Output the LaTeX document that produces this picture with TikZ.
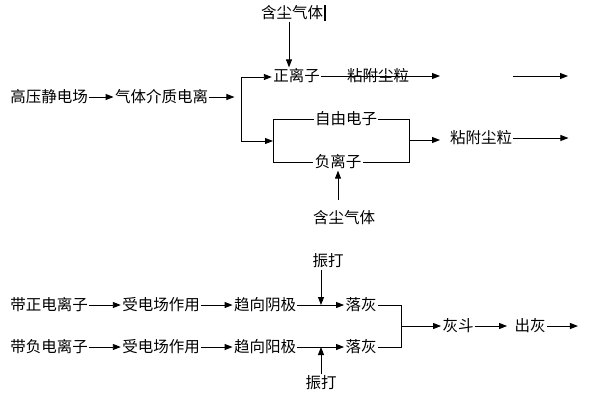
\documentclass[tikz,border=0pt]{standalone}
\usepackage{fontspec}
\newfontfamily\cjk{Noto Sans CJK SC}
\usetikzlibrary{arrows.meta, positioning}

\begin{document}
\begin{tikzpicture}[x=1pt, y=-1pt, >={Triangle[length=8pt,width=6pt]}, line width=0.9pt,
    lbl/.style={inner sep=1pt, font=\cjk\fontsize{15.5}{16}\selectfont}]
  \useasboundingbox (0,0) rectangle (593,405);

  % ionisation chain
  \node[lbl] (hv)  at (49,97)    {高压静电场};
  \node[lbl] (ion) at (161.5,97) {气体介质电离};
  \draw[->] (hv) -- (ion);
  \coordinate (forkTop) at (241,77);
  \coordinate (forkBot) at (241,141);
  \draw[->] (ion.east) -- ++(25,0);

  % positive ions
  \node[lbl] (gasA) at (292,13) {含尘气体};
  \draw[line width=1.6pt] (325,5) -- (325,21);
  \node[lbl] (pos) at (296.5,76) {正离子};
  \draw[->] ([xshift=-3pt]gasA.south) -- ([xshift=-3pt]gasA.south |- pos.north);
  \draw[->] (forkBot) -- (forkTop) -- (forkTop -| pos.west);
  \draw[->] (pos.east) -- (440,76);
  \node[lbl] (dustA) at (378,76) {粘附尘粒};
  \coordinate (tailA) at (513,76);
  \draw[->] (tailA) -- ++(55,0);

  % electrons and negative ions
  \coordinate (boxL) at (273,119);
  \coordinate (boxR) at (409,119);
  \node[lbl] (elec) at (346,119) {自由电子};
  \node[lbl] (neg)  at (338,162) {负离子};
  \draw[->] (forkBot) -- (forkBot -| boxL);
  \draw (elec.west) -- (boxL) -- (boxL |- neg) -- (neg.west);
  \draw (elec.east) -- (boxR) -- (boxR |- neg) -- (neg.east);
  \coordinate (boxMid) at (409,140);
  \draw[->] (boxMid) -- ++(31,0);
  \node[lbl] (dustB) at (481,138) {粘附尘粒};
  \draw[->] (dustB.east) -- ++(55,0);
  \node[lbl] (gasB) at (344,218) {含尘气体};
  \coordinate (gasUp) at (338,200);
  \draw[->] (gasUp) -- (gasUp |- neg.south);

  % collection
  \node[lbl] (posIon)  at (49,305)  {带正电离子};
  \node[lbl] (fieldA)  at (161,305) {受电场作用};
  \node[lbl] (cathode) at (265,305) {趋向阴极};
  \node[lbl] (dropA)   at (361,305) {落灰};
  \draw[->] (posIon) -- (fieldA);
  \draw[->] (fieldA) -- (cathode);
  \draw[->] (cathode) -- (dropA);

  \node[lbl] (negIon) at (49,347)  {带负电离子};
  \node[lbl] (fieldB) at (161,347) {受电场作用};
  \node[lbl] (anode)  at (265,347) {趋向阳极};
  \node[lbl] (dropB)  at (361,347) {落灰};
  \draw[->] (negIon) -- (fieldB);
  \draw[->] (fieldB) -- (anode);
  \draw[->] (anode) -- (dropB);

  % rapping
  \node[lbl] (rapA) at (328,261) {振打};
  \draw[->] ([xshift=-7pt]rapA.south) -- ([xshift=-7pt]rapA.south |- cathode);
  \node[lbl] (rapB) at (321,383) {振打};
  \draw[->] (rapB.north) -- (rapB.north |- anode);

  % hopper
  \coordinate (join) at (401,326);
  \node[lbl] (hopper) at (458,326) {灰斗};
  \node[lbl] (out)    at (530,326) {出灰};
  \draw (dropA.east) -- (dropA.east -| join) -- (dropB.east -| join) -- (dropB.east);
  \draw[->] (join) -- (hopper);
  \draw[->] (hopper) -- ([xshift=-6pt]out.west);
  \draw[->] (out.east) -- ++(31,0);
\end{tikzpicture}
\end{document}
